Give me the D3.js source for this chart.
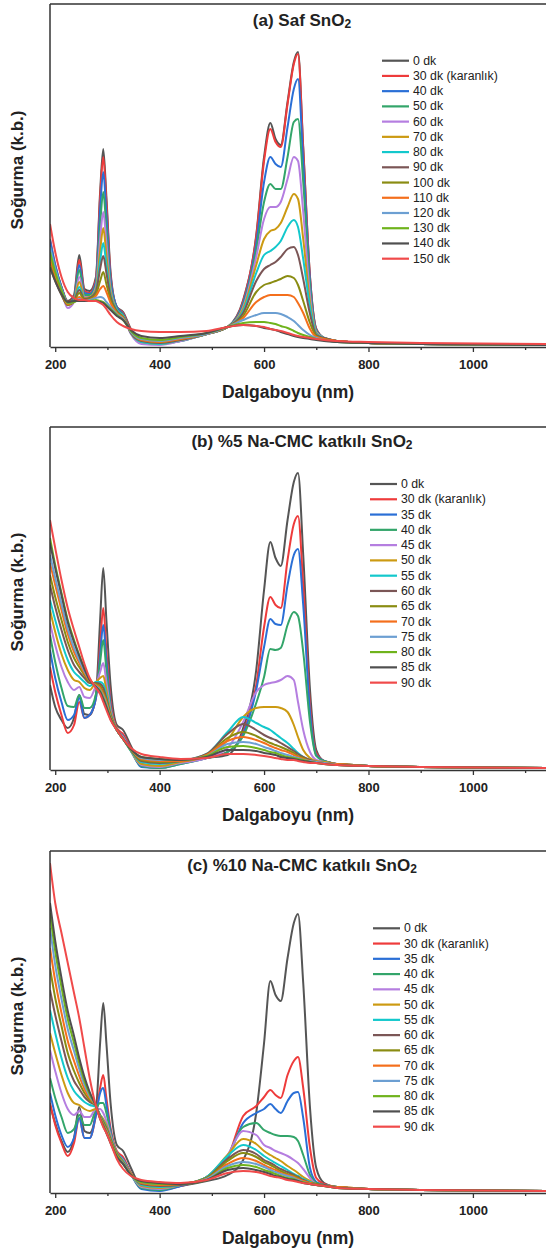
<!DOCTYPE html>
<html><head><meta charset="utf-8">
<script src="https://cdn.jsdelivr.net/npm/d3@7"></script>
<style>
body{margin:0;background:#fff}
svg{display:block}
text{font-family:"Liberation Sans",Arial,Helvetica,sans-serif;fill:#222}
</style>
</head><body>
<svg id="chart" width="546" height="1251"></svg>
<script>
// wavelength grid (nm)
const wavelengths = [190,200,212,224,236,246,256,266,278,286,292,298,306,318,330,345,365,400,440,490,530,560,585,600,612,622,632,645,657,665,675,688,700,715,740,800,900,1140];
const majorTicks = [200,400,600,800,1000];
const minorTicks = [300,500,700,900,1100];

const labelsA = ["0 dk","30 dk (karanlık)","40 dk","50 dk","60 dk","70 dk","80 dk","90 dk","100 dk","110 dk","120 dk","130 dk","140 dk","150 dk"];
const labelsBC = ["0 dk","30 dk (karanlık)","35 dk","40 dk","45 dk","50 dk","55 dk","60 dk","65 dk","70 dk","75 dk","80 dk","85 dk","90 dk"];
const seriesColors = ["#555555","#ee3b3b","#2a6fd6","#33a56a","#b57ee0","#cc9a12","#13c8cc","#7b5656","#8a8c12","#f46f1c","#6c9fd2","#6fb31c","#4f4f4f","#f04a4a"];

const titles = ["(a) Saf SnO", "(b) %5 Na-CMC katkılı SnO", "(c) %10 Na-CMC katkılı SnO"];

// absorbance (arbitrary units) — panel (a) Saf SnO2
const absA = [
 [105,80,60,46,52,92,58,56,70,155,198,150,75,40,35,18,8,6,8,13,20,47,112,190,224,208,202,245,285,295,200,70,18,9,6,4,3,2],
 [108,82,60,45,50,87,56,54,68,150,190,145,72,40,34,17,8,6,8,13,20,46,110,186,218,205,200,243,283,293,198,70,18,9,6,4,3,2],
 [107,82,60,44,49,82,54,53,65,138,175,133,68,40,33,15,5,3,6,13,20,44,103,165,190,183,180,220,258,268,185,66,17,9,6,4,3,2],
 [100,78,58,43,48,77,52,52,62,122,155,118,62,38,32,14,5,3,6,13,20,42,97,145,163,158,158,190,225,228,165,60,16,9,6,4,3,2],
 [90,72,55,39,45,70,50,50,60,108,135,104,58,37,31,13,3,2,6,13,20,40,90,128,140,140,145,168,190,186,135,52,15,9,6,4,3,2],
 [95,75,56,42,46,65,49,50,58,96,119,92,55,37,31,14,5,3,7,13,20,38,82,108,116,118,124,140,153,148,108,45,14,9,6,4,3,2],
 [100,78,58,43,46,60,48,49,56,86,104,82,52,37,31,14,5,3,7,13,20,36,74,92,96,100,106,120,127,120,88,40,13,9,6,4,3,2],
 [80,66,52,42,46,57,48,49,55,78,91,74,50,36,30,14,6,4,7,13,20,34,66,78,82,85,90,98,100,92,68,33,12,9,6,4,3,2],
 [85,68,53,42,45,54,47,48,53,66,75,63,47,35,30,15,7,5,8,13,20,31,55,62,64,66,68,71,69,62,46,24,11,8,6,4,3,2],
 [90,72,55,43,45,50,46,47,51,58,61,55,44,34,29,15,7,5,8,13,20,29,45,50,52,52,52,52,50,44,34,18,10,8,6,4,3,2],
 [100,78,58,44,45,48,46,47,49,50,49,45,40,33,28,15,8,6,9,13,20,27,32,34,34,34,33,30,26,22,17,12,9,7,5,4,3,2],
 [95,75,57,44,45,47,46,46,47,46,45,42,38,32,27,16,9,7,10,14,20,24,25,25,24,23,21,19,16,14,12,10,8,7,5,4,3,2],
 [80,66,53,45,46,46,46,46,46,45,44,41,37,31,27,17,11,9,11,14,20,22,21,19,18,17,15,13,11,10,9,8,7,6,5,4,3,2],
 [123,95,70,55,49,47,47,46,46,44,42,38,32,25,21,18,16,15,15,16,20,22,21,20,18,17,16,14,12,11,10,9,8,7,6,5,4,3]
];
// panel (b) %5 Na-CMC
const absB = [
 [85,63,50,42,52,75,56,55,75,150,202,150,85,45,40,24,6,4,7,12,15,42,100,180,228,212,204,250,288,297,215,80,20,9,6,4,3,2],
 [103,78,55,37,45,68,52,55,72,125,162,120,70,42,36,22,5,3,7,12,18,38,85,143,173,165,162,210,246,254,185,65,17,9,6,4,3,2],
 [120,92,68,50,55,72,52,55,72,115,145,110,65,40,34,20,3,2,6,12,18,36,80,123,151,146,145,185,215,221,165,58,15,9,6,4,3,2],
 [135,108,82,64,63,75,62,62,76,108,130,100,62,40,33,19,4,2,6,12,18,34,67,93,121,120,122,145,158,154,118,48,14,9,6,4,3,2],
 [147,125,103,88,80,83,73,72,85,98,107,88,60,40,33,19,5,3,7,12,22,48,78,85,87,88,90,94,90,68,40,18,10,8,6,4,3,2],
 [160,138,116,100,90,88,82,80,88,92,94,80,58,40,32,19,6,4,8,14,30,53,62,63,63,63,62,58,45,33,20,12,9,8,6,4,3,2],
 [170,150,128,110,98,93,88,84,88,88,86,75,56,40,31,19,8,6,9,16,38,53,47,43,40,36,32,27,21,17,13,10,8,7,6,4,3,2],
 [185,163,140,120,105,98,92,87,87,86,82,72,55,40,31,20,9,7,9,16,36,46,40,35,32,30,27,23,19,16,13,10,8,7,6,4,3,2],
 [195,173,150,128,112,103,95,88,86,84,78,70,54,40,31,20,10,8,9,15,32,38,34,30,27,25,23,20,17,14,12,9,8,7,6,4,3,2],
 [207,185,160,136,118,107,97,89,85,82,76,68,53,40,31,21,11,9,9,15,29,33,30,27,24,22,20,18,15,13,11,9,8,7,6,4,3,2],
 [215,192,166,141,122,110,99,90,84,80,74,66,52,40,31,21,12,10,10,14,26,28,26,23,21,19,17,15,13,12,10,9,8,7,5,4,3,2],
 [232,205,177,150,130,115,102,91,83,79,72,64,52,40,31,21,13,11,10,14,23,24,22,20,18,17,15,13,12,11,10,8,7,6,5,4,3,2],
 [227,202,175,148,128,114,101,90,83,78,71,63,51,40,31,21,13,11,10,13,20,20,19,17,16,15,13,12,11,10,9,8,7,6,5,4,3,2],
 [250,222,190,162,140,123,106,92,82,76,68,60,50,40,31,22,16,13,11,12,16,16,15,14,13,12,11,10,10,9,8,7,7,6,5,4,3,2]
];
// panel (c) %10 Na-CMC
const absC = [
 [88,70,52,41,55,86,62,60,82,150,190,150,90,48,42,25,6,4,7,12,18,33,80,150,212,198,192,235,270,279,210,85,25,10,6,4,3,2],
 [90,68,50,37,50,75,55,55,78,105,118,95,65,42,36,20,5,3,7,16,35,77,87,96,103,98,95,118,132,136,105,45,15,9,6,4,3,2],
 [100,78,58,46,55,75,55,55,78,100,105,88,62,40,34,19,4,2,7,16,35,70,80,84,89,84,80,92,100,101,75,25,11,8,6,4,3,2],
 [115,95,76,60,64,78,68,68,84,90,90,80,60,40,33,19,5,3,8,16,37,66,70,63,60,58,57,57,56,52,38,18,10,8,6,4,3,2],
 [143,122,100,84,78,82,76,76,84,84,80,72,58,40,33,19,6,4,8,16,38,62,58,48,45,42,40,37,33,30,24,15,9,8,6,4,3,2],
 [160,140,118,100,90,88,84,82,84,78,74,68,56,40,32,19,7,5,8,16,38,54,49,42,38,35,32,27,23,20,16,12,9,8,6,4,3,2],
 [183,160,135,115,102,96,91,88,86,78,72,66,55,40,32,19,8,6,8,16,37,48,43,37,33,30,27,23,19,17,14,11,9,8,6,4,3,2],
 [203,178,152,128,112,104,96,91,87,77,71,65,54,39,31,19,9,7,8,15,34,43,39,33,30,27,24,21,18,16,13,10,9,8,6,4,3,2],
 [225,195,167,140,122,110,100,93,87,76,70,64,53,39,31,19,10,8,9,15,32,40,36,31,28,25,22,19,17,15,12,10,9,7,6,4,3,2],
 [245,212,180,152,132,117,104,95,87,76,69,63,52,38,30,19,10,8,9,14,29,35,32,28,25,23,20,18,16,14,12,10,8,7,6,4,3,2],
 [265,228,194,164,142,124,108,97,87,75,68,62,51,37,30,18,11,9,9,14,27,31,29,26,23,21,19,17,15,13,11,9,8,7,5,4,3,2],
 [280,242,206,174,150,130,112,99,87,75,68,61,51,37,29,18,11,9,9,13,25,28,26,23,21,19,17,15,14,12,11,9,8,7,5,4,3,2],
 [290,252,215,182,157,135,116,101,87,74,67,60,50,36,29,18,12,10,9,13,23,25,23,21,19,17,16,14,13,12,10,9,8,7,5,4,3,2],
 [330,290,260,230,200,175,145,115,87,74,66,60,50,34,24,17,13,11,10,13,20,22,21,19,17,16,15,13,12,11,10,9,8,7,5,4,3,2]
];

const panels = [
  {data: absA, labels: labelsA, title: titles[0], top: 4, bottom: 347, titleY: 20, yTitleY: 170, legX: 382, legY: 60.7, legDy: 15.23},
  {data: absB, labels: labelsBC, title: titles[1], top: 427, bottom: 770, titleY: 441, yTitleY: 592, legX: 370, legY: 484, legDy: 15.28},
  {data: absC, labels: labelsBC, title: titles[2], top: 851, bottom: 1193, titleY: 865, yTitleY: 1016, legX: 373, legY: 928.3, legDy: 15.26}
];

const svg = d3.select("#chart");
const left = 50, right = 546;
const x = d3.scaleLinear().domain([190, 1140]).range([left, right]);

panels.forEach((p, pi) => {
  const y = d3.scaleLinear().domain([0, p.bottom - p.top]).range([p.bottom, p.top]);
  const g = svg.append("g");
  const clipId = "clip" + pi;
  svg.append("clipPath").attr("id", clipId).append("rect")
    .attr("x", left).attr("y", p.top).attr("width", right - left).attr("height", p.bottom - p.top);

  const line = d3.line().x((d, i) => x(wavelengths[i])).y(d => y(d)).curve(d3.curveMonotoneX);
  const lines = g.append("g").attr("clip-path", `url(#${clipId})`);
  p.data.forEach((s, i) => {
    lines.append("path").attr("d", line(s)).attr("fill", "none")
      .attr("stroke", seriesColors[i]).attr("stroke-width", 2).attr("stroke-linejoin", "round");
  });

  // frame: left + top
  g.append("line").attr("x1", left).attr("x2", left).attr("y1", p.top).attr("y2", p.bottom).attr("stroke", "#333").attr("stroke-width", 1.5);
  g.append("line").attr("x1", left).attr("x2", right).attr("y1", p.top).attr("y2", p.top).attr("stroke", "#333").attr("stroke-width", 1.5);

  // x axis
  const ax = g.append("g").attr("transform", `translate(0,${p.bottom})`)
    .call(d3.axisBottom(x).tickValues(majorTicks).tickSize(5).tickSizeOuter(0).tickFormat(d3.format("d")));
  ax.select(".domain").attr("stroke", "#333").attr("stroke-width", 1.5);
  ax.selectAll(".tick line").attr("stroke", "#333").attr("stroke-width", 1.3);
  ax.selectAll("text").attr("y", 17).attr("dy", "0.35em")
    .style("font-size", "13px").style("font-weight", "bold").attr("fill", "#222")
    .style("font-family", "'Liberation Sans',Arial,sans-serif");
  const mx = g.append("g").attr("transform", `translate(0,${p.bottom})`)
    .call(d3.axisBottom(x).tickValues(minorTicks).tickSize(3).tickSizeOuter(0).tickFormat(""));
  mx.select(".domain").remove();
  mx.selectAll(".tick line").attr("stroke", "#333").attr("stroke-width", 1.3);

  // axis titles
  g.append("text").attr("x", 288).attr("y", p.bottom + 45).attr("text-anchor", "middle")
    .attr("dominant-baseline", "central").style("font-size", "17.5px").style("font-weight", "bold").text("Dalgaboyu (nm)");
  g.append("text").attr("transform", `translate(17,${p.yTitleY}) rotate(-90)`).attr("text-anchor", "middle")
    .attr("dominant-baseline", "central").style("font-size", "17px").style("font-weight", "bold").text("Soğurma (k.b.)");

  // title
  const t = g.append("text").attr("x", 302).attr("y", p.titleY).attr("text-anchor", "middle")
    .attr("dominant-baseline", "central").style("font-size", "17px").style("font-weight", "bold");
  t.append("tspan").text(p.title);
  t.append("tspan").attr("dy", 4).style("font-size", "12px").text("2");

  // legend
  p.labels.forEach((lab, i) => {
    const yy = p.legY + i * p.legDy;
    g.append("line").attr("x1", p.legX).attr("x2", p.legX + 27).attr("y1", yy).attr("y2", yy)
      .attr("stroke", seriesColors[i]).attr("stroke-width", 2.2);
    g.append("text").attr("x", p.legX + 31).attr("y", yy).attr("dominant-baseline", "central")
      .style("font-size", "12.3px").text(lab);
  });
});
</script>
</body></html>
